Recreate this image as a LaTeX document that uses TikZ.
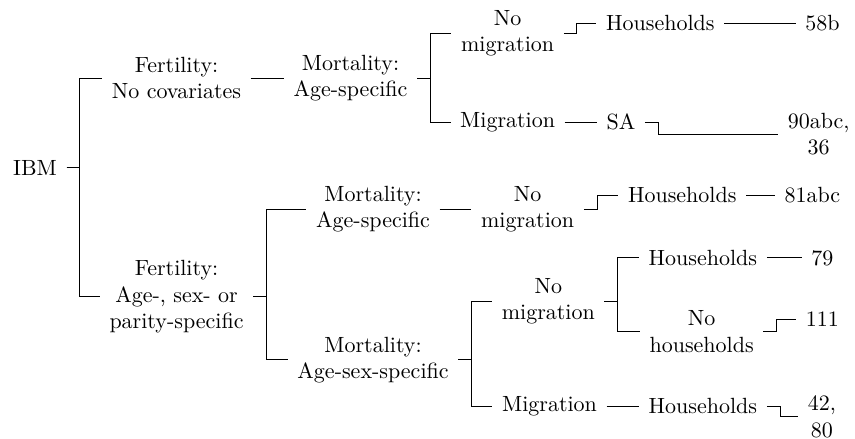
\documentclass[tikz,border=0pt]{standalone}

\tikzset{
  choice/.style={align=center, inner xsep=4.2pt},
  fork/.style={to path={-- ++(0.21,0) |- (\tikztotarget)}}
}

\begin{document}
\begin{tikzpicture}
  \useasboundingbox (0,0) rectangle (13.66,-7.01);
  \node[choice] (ibm) at (0.56,-2.68) {IBM};
  \node[choice] (fnc) at (2.82,-1.25) {Fertility:\\No covariates};
  \node[choice] (fas) at (2.82,-4.74) {Fertility:\\Age-, sex- or\\parity-specific};
  \node[choice] (mas1) at (5.60,-1.25) {Mortality:\\Age-specific};
  \node[choice] (mas2) at (5.96,-3.34) {Mortality:\\Age-specific};
  \node[choice] (mass) at (5.96,-5.75) {Mortality:\\Age-sex-specific};
  \node[choice] (nm1) at (8.11,-0.53) {No\\migration};
  \node[choice] (mig1) at (8.11,-1.95) {Migration};
  \node[choice] (nm2) at (8.43,-3.34) {No\\migration};
  \node[choice] (nm3) at (8.76,-4.81) {No\\migration};
  \node[choice] (mig2) at (8.78,-6.49) {Migration};
  \node[choice] (hh1) at (10.55,-0.37) {Households};
  \node[choice] (sa) at (9.92,-1.95) {SA};
  \node[choice] (hh2) at (10.90,-3.12) {Households};
  \node[choice] (hh3) at (11.23,-4.12) {Households};
  \node[choice] (nhh) at (11.21,-5.30) {No\\households};
  \node[choice] (hh4) at (11.23,-6.49) {Households};
  \node[choice] (n58) at (13.14,-0.37) {58b};
  \node[choice] (n90) at (13.08,-2.14) {90abc,\\36};
  \node[choice] (n81) at (12.98,-3.12) {81abc};
  \node[choice] (n79) at (13.14,-4.12) {79};
  \node[choice] (n111) at (13.14,-5.10) {111};
  \node[choice] (n42) at (13.13,-6.66) {42,\\80};
  % Draw the branches
  \draw (ibm.east) to[fork] (fnc.west);
  \draw (ibm.east) to[fork] (fas.west);
  \draw (fnc.east) to[fork] (mas1.west);
  \draw (mas1.east) to[fork] (nm1.west);
  \draw (mas1.east) to[fork] (mig1.west);
  \draw (nm1.east) to[fork] (hh1.west);
  \draw (hh1.east) to[fork] (n58.west);
  \draw (mig1.east) to[fork] (sa.west);
  \draw (sa.east) to[fork] (n90.west);
  \draw (fas.east) to[fork] (mas2.west);
  \draw (fas.east) to[fork] (mass.west);
  \draw (mas2.east) to[fork] (nm2.west);
  \draw (nm2.east) to[fork] (hh2.west);
  \draw (hh2.east) to[fork] (n81.west);
  \draw (mass.east) to[fork] (nm3.west);
  \draw (mass.east) to[fork] (mig2.west);
  \draw (nm3.east) to[fork] (hh3.west);
  \draw (nm3.east) to[fork] (nhh.west);
  \draw (hh3.east) to[fork] (n79.west);
  \draw (nhh.east) to[fork] (n111.west);
  \draw (mig2.east) to[fork] (hh4.west);
  \draw (hh4.east) to[fork] (n42.west);
\end{tikzpicture}
\end{document}
